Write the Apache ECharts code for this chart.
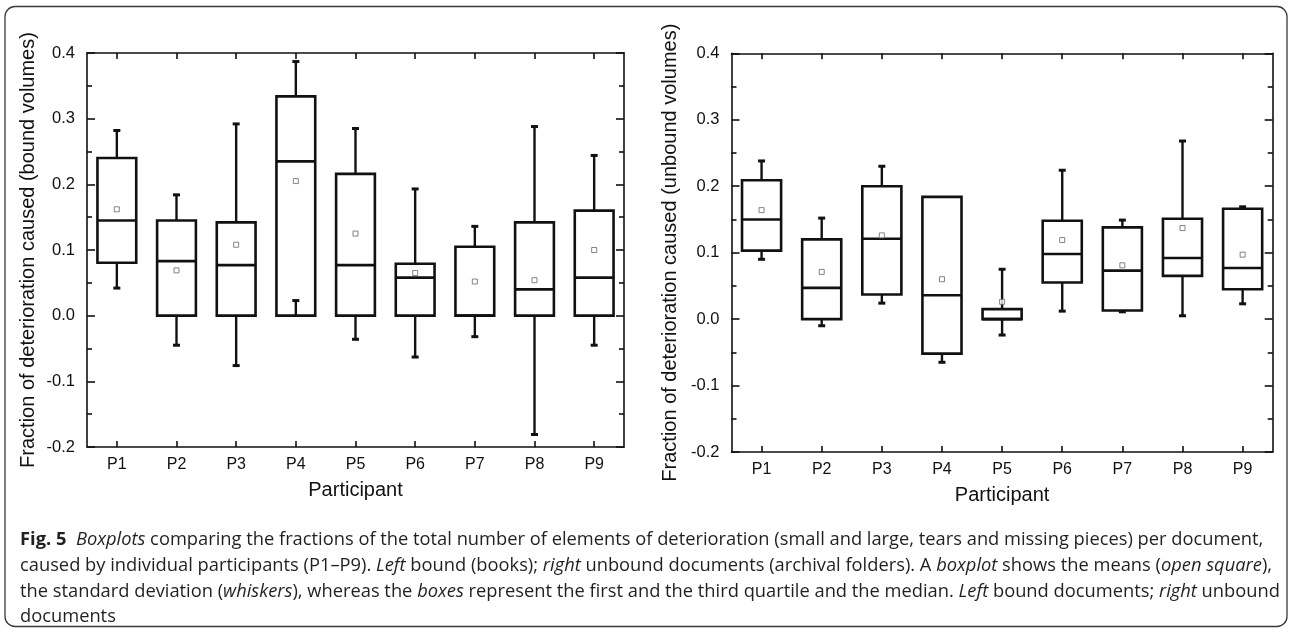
<!DOCTYPE html>
<html>
<head>
<meta charset="utf-8">
<script src="https://cdn.jsdelivr.net/npm/echarts@6/dist/echarts.min.js"></script>
<style>
html,body{margin:0;padding:0;background:#fff;}
#c{width:1290px;height:630px;}
</style>
</head>
<body>
<div id="c"></div>
<script>
// ---- data ----
const participants = ['P1','P2','P3','P4','P5','P6','P7','P8','P9'];
const yTicks = { min: -0.2, max: 0.4, interval: 0.1 };

// bound volumes (left)
const boundMin    = [0.042, -0.045, -0.076, 0.023, -0.036, -0.063, -0.032, -0.181, -0.045];
const boundQ1     = [0.0805, 0, 0, 0, 0, 0, 0, 0, 0];
const boundMedian = [0.145, 0.083, 0.077, 0.235, 0.077, 0.058, 0, 0.040, 0.058];
const boundQ3     = [0.240, 0.145, 0.142, 0.334, 0.216, 0.079, 0.105, 0.142, 0.160];
const boundMax    = [0.282, 0.184, 0.292, 0.387, 0.285, 0.193, 0.136, 0.288, 0.244];
const boundMean   = [0.162, 0.069, 0.108, 0.205, 0.125, 0.065, 0.052, 0.054, 0.100];

// unbound volumes (right)
const unboundMin    = [0.090, -0.010, 0.024, -0.065, -0.024, 0.012, 0.011, 0.005, 0.023];
const unboundQ1     = [0.103, 0, 0.037, -0.052, 0, 0.055, 0.013, 0.065, 0.045];
const unboundMedian = [0.150, 0.047, 0.121, 0.036, 0, 0.098, 0.073, 0.092, 0.077];
const unboundQ3     = [0.209, 0.120, 0.200, 0.184, 0.015, 0.148, 0.138, 0.151, 0.166];
const unboundMax    = [0.238, 0.152, 0.230, 0.184, 0.075, 0.224, 0.149, 0.268, 0.169];
const unboundMean   = [0.164, 0.071, 0.126, 0.060, 0.026, 0.119, 0.081, 0.137, 0.097];

const yTitleLeft = 'Fraction of deterioration caused (bound volumes)';
const yTitleRight = 'Fraction of deterioration caused (unbound volumes)';
const xTitle = 'Participant';

// ---- build ----
function boxRows(mn, q1, md, q3, mx) {
  return participants.map((p, i) => [i, mn[i], q1[i], md[i], q3[i], mx[i]]);
}
function meanRows(m) { return participants.map((p, i) => [i, m[i]]); }

const INK = '#111';
const FONT = '"Liberation Sans", Arial, sans-serif';

function renderBox(params, api) {
  const i = api.value(0);
  const pMin = api.coord([i, api.value(1)]);
  const yQ1 = api.coord([i, api.value(2)])[1];
  const yMed = api.coord([i, api.value(3)])[1];
  const yQ3 = api.coord([i, api.value(4)])[1];
  const yMax = api.coord([i, api.value(5)])[1];
  const cx = pMin[0], yMin = pMin[1];
  const band = api.size([1, 0])[0];
  const w = band * 0.65;
  const cap = 3.5;
  const ls = { stroke: INK, lineWidth: 2.6, fill: null };
  const line = (x1, y1, x2, y2, lw) => ({
    type: 'line', shape: { x1, y1, x2, y2 },
    style: { stroke: INK, lineWidth: lw || 2.6 }
  });
  const kids = [];
  if (Math.abs(yMax - yQ3) > 0.5) {
    kids.push(line(cx, yQ3, cx, yMax, 2.4), line(cx - cap, yMax, cx + cap, yMax, 3));
  }
  if (Math.abs(yMin - yQ1) > 0.5) {
    kids.push(line(cx, yQ1, cx, yMin, 2.4), line(cx - cap, yMin, cx + cap, yMin, 3));
  }
  kids.push(
    { type: 'rect', shape: { x: cx - w / 2, y: yQ3, width: w, height: yQ1 - yQ3 }, style: ls },
    line(cx - w / 2, yMed, cx + w / 2, yMed, 2.6)
  );
  return { type: 'group', children: kids };
}

function xAxes(gridIndex) {
  const base = {
    type: 'category', data: participants, gridIndex,
    boundaryGap: true,
    axisLine: { show: true, onZero: false, lineStyle: { color: INK, width: 1.6 } },
    axisTick: { show: true, inside: true, alignWithLabel: true, length: 6, lineStyle: { color: INK, width: 1.6 } },
    splitLine: { show: false }
  };
  return [
    Object.assign({}, base, {
      position: 'bottom',
      axisLabel: { show: true, color: INK, fontFamily: FONT, fontSize: 16, margin: 10 },
      name: xTitle, nameLocation: 'middle', nameGap: 43,
      nameTextStyle: { color: INK, fontFamily: FONT, fontSize: 20, verticalAlign: 'middle' }
    }),
    Object.assign({}, base, { position: 'top', axisLabel: { show: false } })
  ];
}

function yAxes(gridIndex, title, gap) {
  const base = {
    type: 'value', gridIndex,
    min: yTicks.min, max: yTicks.max, interval: yTicks.interval,
    axisLine: { show: true, onZero: false, lineStyle: { color: INK, width: 1.6 } },
    axisTick: { show: true, inside: true, length: 8, lineStyle: { color: INK, width: 1.6 } },
    minorTick: { show: true, splitNumber: 2, length: 5, lineStyle: { color: INK, width: 1.6 } },
    splitLine: { show: false }, minorSplitLine: { show: false }
  };
  return [
    Object.assign({}, base, {
      position: 'left',
      axisLabel: { show: true, color: INK, fontFamily: FONT, fontSize: 16.5, margin: 12,
        formatter: v => (Math.abs(v) < 1e-9 ? 0 : v).toFixed(1) },
      name: title, nameLocation: 'middle', nameGap: gap, nameRotate: 90,
      nameTextStyle: { color: INK, fontFamily: FONT, fontSize: 20, verticalAlign: 'middle' }
    }),
    Object.assign({}, base, { position: 'right', axisLabel: { show: false } })
  ];
}

const captionColor = '#231f20';
const CAP_FONT = '"Open Sans", "Noto Sans", sans-serif';
const captionPlain = 'Fig. 5  Boxplots comparing the fractions of the total number of elements of deterioration (small and large, tears and missing pieces) per document,';
// fit caption font size to the reference line width
const CAP_TARGET_W = 1247;
const mctx = document.createElement('canvas').getContext('2d');
mctx.font = '100px "Open Sans"';
let CAP_SIZE = 100 * CAP_TARGET_W / mctx.measureText(captionPlain).width;
if (!isFinite(CAP_SIZE) || CAP_SIZE < 12 || CAP_SIZE > 22) CAP_SIZE = 17.5;

const rich = {
  b: { fontWeight: 'bold', fontFamily: CAP_FONT, fontSize: CAP_SIZE, color: captionColor },
  i: { fontStyle: 'italic', fontFamily: CAP_FONT, fontSize: CAP_SIZE, color: captionColor },
  n: { fontFamily: CAP_FONT, fontSize: CAP_SIZE, color: captionColor }
};
const captionLines = [
  '{b|Fig. 5}{n|  }{i|Boxplots}{n| comparing the fractions of the total number of elements of deterioration (small and large, tears and missing pieces) per document,}',
  '{n|caused by individual participants (P1–P9). }{i|Left}{n| bound (books); }{i|right}{n| unbound documents (archival folders). A }{i|boxplot}{n| shows the means (}{i|open square}{n|),}',
  '{n|the standard deviation (}{i|whiskers}{n|), whereas the }{i|boxes}{n| represent the first and the third quartile and the median. }{i|Left}{n| bound documents; }{i|right}{n| unbound}',
  '{n|documents}'
];
const captionY = [540, 566, 592, 617];

const graphics = [
  { type: 'rect', z: -10, shape: { x: 5, y: 6.5, width: 1282, height: 620, r: 10 },
    style: { fill: null, stroke: '#3a3a3a', lineWidth: 1.3 } }
].concat(captionLines.map((t, k) => ({
  type: 'text', x: 20, y: captionY[k],
  style: { text: t, rich, fontFamily: CAP_FONT, fontSize: CAP_SIZE, fill: captionColor, verticalAlign: 'middle', align: 'left' }
})));

const chart = echarts.init(document.getElementById('c'), null, { renderer: 'canvas' });
chart.setOption({
  animation: false,
  backgroundColor: '#fff',
  grid: [
    { left: 87, right: 666, top: 53, bottom: 183, containLabel: false },
    { left: 731.5, right: 17.3, top: 53.3, bottom: 178, containLabel: false }
  ],
  xAxis: xAxes(0).concat(xAxes(1)),
  yAxis: yAxes(0, yTitleLeft, 59).concat(yAxes(1, yTitleRight, 61)),
  graphic: graphics,
  series: [
    { type: 'custom', xAxisIndex: 0, yAxisIndex: 0, renderItem: renderBox,
      encode: { x: 0, y: [1, 2, 3, 4, 5] },
      data: boxRows(boundMin, boundQ1, boundMedian, boundQ3, boundMax), z: 2 },
    { type: 'scatter', xAxisIndex: 0, yAxisIndex: 0, symbol: 'rect', symbolSize: 5,
      itemStyle: { color: '#fff', borderColor: '#666', borderWidth: 1 },
      data: meanRows(boundMean), z: 3 },
    { type: 'custom', xAxisIndex: 2, yAxisIndex: 2, renderItem: renderBox,
      encode: { x: 0, y: [1, 2, 3, 4, 5] },
      data: boxRows(unboundMin, unboundQ1, unboundMedian, unboundQ3, unboundMax), z: 2 },
    { type: 'scatter', xAxisIndex: 2, yAxisIndex: 2, symbol: 'rect', symbolSize: 5,
      itemStyle: { color: '#fff', borderColor: '#666', borderWidth: 1 },
      data: meanRows(unboundMean), z: 3 }
  ]
});
</script>
</body>
</html>
